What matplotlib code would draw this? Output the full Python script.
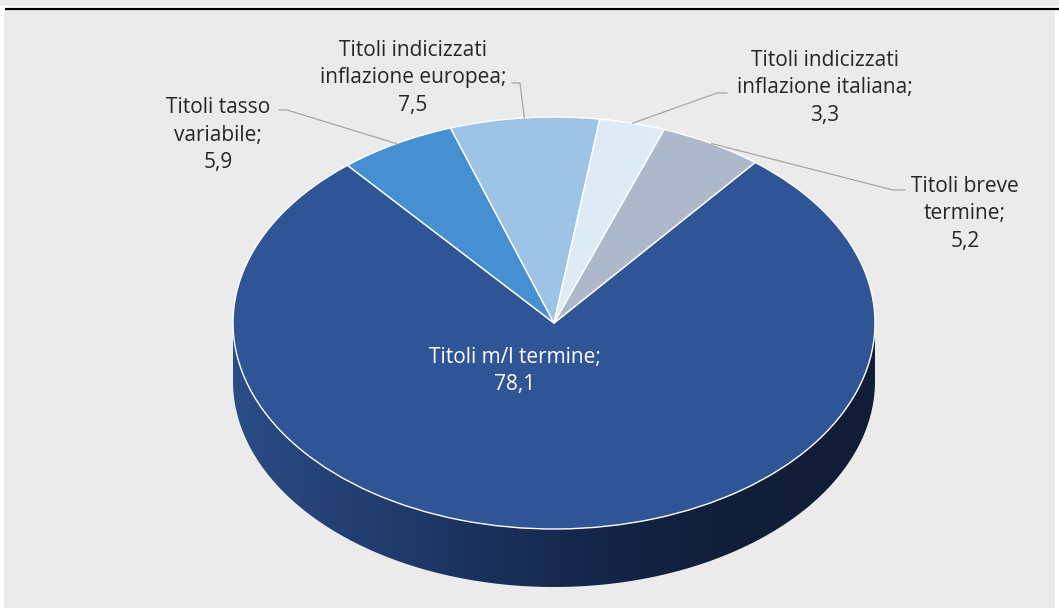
import numpy as np
import matplotlib.pyplot as plt
from matplotlib.patches import Polygon, Rectangle
from matplotlib.transforms import Affine2D
from matplotlib.colors import LinearSegmentedColormap

# Composizione dei titoli di Stato (valori percentuali)
labels = [
    "Titoli m/l termine;",
    "Titoli tasso\nvariabile;",
    "Titoli indicizzati\ninflazione europea;",
    "Titoli indicizzati\ninflazione italiana;",
    "Titoli breve\ntermine;",
]
values = [78.1, 5.9, 7.5, 3.3, 5.2]
colors = ["#2f5597", "#4690d2", "#9dc3e6", "#deebf7", "#adb9ca"]

W, H = 1059, 612
fig = plt.figure(figsize=(W / 100, H / 100), dpi=100)
fig.patch.set_facecolor("white")
ax = fig.add_axes([0, 0, 1, 1])

# pie geometry in pixels (y up)
cx, cy = 554, H - 323
a, b = 321, 206
depth = 58
squash = Affine2D().translate(-cx, -cy).scale(1, b / a).translate(cx, cy)

# background panel and top rule
ax.add_patch(Rectangle((4, 4), 1051, H - 14, facecolor="#ebebeb", edgecolor="none", zorder=0))
ax.add_patch(Rectangle((0, H - 6), W, 6, facecolor="#ebebeb", edgecolor="none", zorder=0))
ax.plot([5, W], [H - 9, H - 9], color="black", lw=1.6, zorder=1, solid_capstyle="butt")

wedges, _ = ax.pie(values, colors=colors, startangle=51.2, counterclock=False,
                   radius=a, center=(cx, cy),
                   wedgeprops=dict(edgecolor="white", linewidth=1.0))
for w in wedges:
    w.set_transform(squash + ax.transData)
    w.set_zorder(3)

# side of the disc (front half), shaded left to right
t = np.linspace(np.pi, 2 * np.pi, 200)
xs = cx + a * np.cos(t)
ys = cy + b * np.sin(t)
side = np.concatenate([np.column_stack([xs, ys]),
                       np.column_stack([xs[::-1], ys[::-1] - depth])])
side_patch = Polygon(side, closed=True, facecolor="none", edgecolor="none")
ax.add_patch(side_patch)
shade = LinearSegmentedColormap.from_list(
    "side", [(0, "#2b4c86"), (0.3, "#1e3766"), (0.55, "#15264a"), (0.75, "#121f3a"), (1, "#111d36")])
grad = np.linspace(0, 1, 256).reshape(1, -1)
img = ax.imshow(grad, cmap=shade, extent=(cx - a, cx + a, cy - b - depth, cy),
                aspect="auto", zorder=2, interpolation="bilinear")
img.set_clip_path(side_patch)

# labels and leader lines
txt = dict(family="Open Sans", fontsize=15, ha="center", va="center", linespacing=1.4,
           color="#262626")
label_pos = [(515, 371), (218, 135), (413, 78), (825, 88), (965, 214)]
knees = [None, [(279, 110), (287, 110)], [(512, 83), (520, 83)],
         [(727, 93), (717, 93)], [(905, 190), (893, 190)]]

for w, lab, v, pos, knee in zip(wedges, labels, values, label_pos, knees):
    s = f"{lab}\n{v:.1f}".replace(".", ",")
    if knee is None:
        ax.text(pos[0], H - pos[1], s, zorder=5, **{**txt, "color": "white"})
        continue
    ax.text(pos[0], H - pos[1], s, zorder=5, **txt)
    mid = np.deg2rad((w.theta1 + w.theta2) / 2)
    px, py = cx + a * np.cos(mid), cy + b * np.sin(mid)
    kx = [k[0] for k in knee] + [px]
    ky = [H - k[1] for k in knee] + [py]
    ax.plot(kx, ky, color="#a6a6a6", lw=0.9, zorder=4)

ax.set_xlim(0, W)
ax.set_ylim(0, H)
ax.set_aspect("auto")
ax.axis("off")

fig.savefig("out.png", dpi=100, facecolor="white")
